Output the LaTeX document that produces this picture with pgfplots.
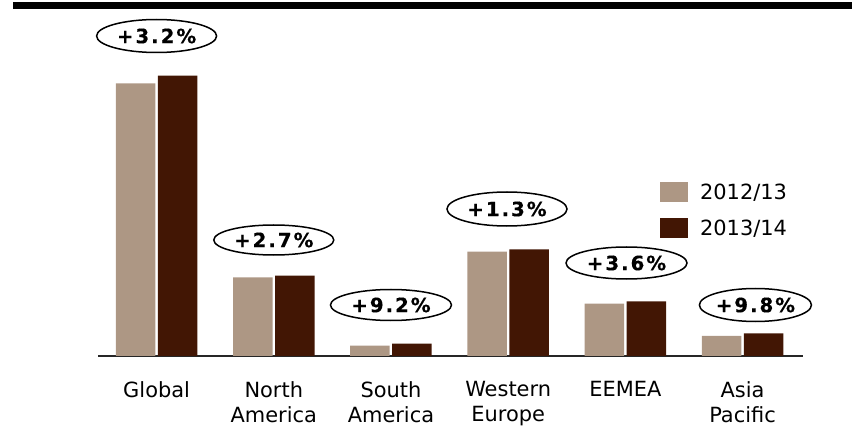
\documentclass[border=0pt]{standalone}
\usepackage{fontspec}
\setmainfont{DejaVu Sans}
\newfontfamily\pctfont[BoldFeatures={FakeBold=0.4}]{DejaVu Sans}
\usepackage{pgfplots}
\pgfplotsset{compat=1.18}
\usetikzlibrary{shapes.geometric}
\definecolor{lightbar}{RGB}{173,151,132}
\definecolor{darkbar}{RGB}{66,22,4}
\newcommand{\pct}[2]{+\kern2.0bp#1\kern2.0bp.\kern2.0bp#2\kern2.0bp\%}
\begin{document}
\begin{tikzpicture}
\path[use as bounding box] (0bp,0bp) rectangle (852bp,426bp);
\fill[black] (13bp,417bp) rectangle (852bp,424bp);
\begin{axis}[
  at={(98bp,70bp)}, anchor=south west,
  scale only axis, width=705bp, height=320bp,
  xmin=-0.5, xmax=5.516, ymin=0, ymax=320,
  enlargelimits=false,
  axis y line=none, axis x line*=bottom,
  x axis line style={line width=1.5bp, color=black!85, -},
  xtick={0,1,2,3,4,5},
  xticklabels={Global, North\\America, South\\America, Western\\Europe, EEMEA, Asia\\Pacific},
  xticklabel style={align=center, font=\fontsize{21}{25}\selectfont, inner sep=0pt, yshift=-25bp},
  major tick length=0pt,
  ybar, bar width=39.5bp,
  clip=false,
  legend style={at={(0.797,0.544)}, anchor=north west, draw=none, fill=none,
    inner sep=0pt, row sep=16bp, nodes={inner sep=0pt},
    font=\fontsize{21}{25}\selectfont,
    /tikz/every odd column/.append style={column sep=12bp}},
  legend cell align=left,
  legend image code/.code={\fill[#1] (0bp,-10bp) rectangle (28bp,10bp);},
]
\addplot[fill=lightbar, draw=none, bar shift=-21bp] coordinates {(0,272.7) (1,78.7) (2,10.3) (3,104.3) (4,52.3) (5,20)};
\addlegendentry{2012/13}
\addplot[fill=darkbar, draw=none, bar shift=21bp] coordinates {(0,280.3) (1,80.3) (2,12.3) (3,106.7) (4,54.7) (5,22.7)};
\addlegendentry{2013/14}
\tikzset{pct/.style={draw, ellipse, line width=1.5bp, inner sep=0pt, font=\pctfont\bfseries\fontsize{19.8}{22}\selectfont}}
\node[pct, minimum width=120bp, minimum height=33bp] at (axis cs:0,320) {\pct{3}{2}};
\node[pct, minimum width=120bp, minimum height=30bp] at (axis cs:1,116) {\pct{2}{7}};
\node[pct, minimum width=121bp, minimum height=31bp] at (axis cs:2,51) {\pct{9}{2}};
\node[pct, minimum width=120bp, minimum height=34bp] at (axis cs:2.99,147) {\pct{1}{3}};
\node[pct, minimum width=121bp, minimum height=32bp] at (axis cs:4.01,93) {\pct{3}{6}};
\node[pct, minimum width=106bp, minimum height=33bp] at (axis cs:5.11,51) {\pct{9}{8}};
\end{axis}
\end{tikzpicture}
\end{document}
